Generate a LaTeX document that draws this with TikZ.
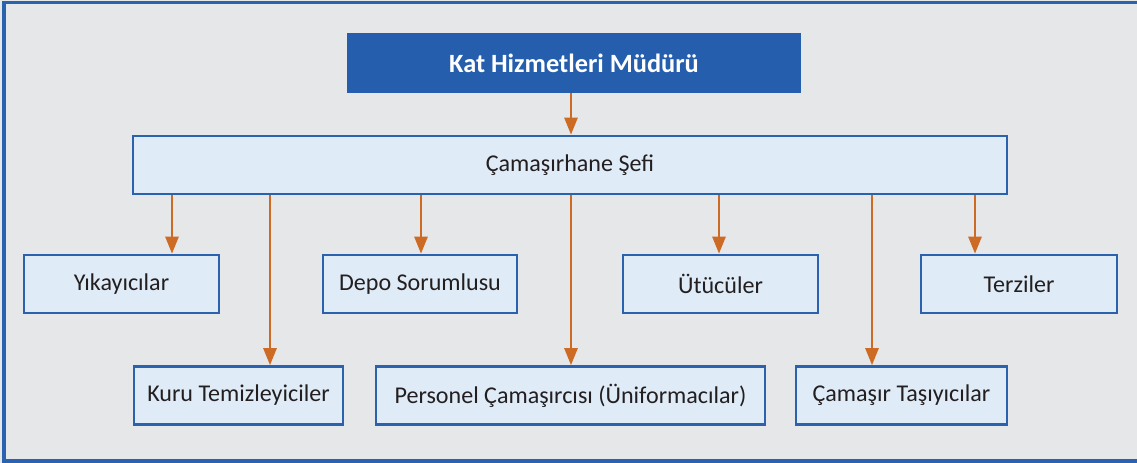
\documentclass[tikz,border=0pt]{standalone}
\usepackage{fontspec}
\setmainfont{Carlito}
\usepackage{tikz}
\usetikzlibrary{arrows.meta}
\usepackage{xcolor}
\definecolor{bgray}{HTML}{E6E7E8}
\definecolor{dblue}{HTML}{255EAD}
\definecolor{lblue}{HTML}{DFEBF7}
\definecolor{eblue}{HTML}{2B62B0}
\definecolor{orng}{HTML}{CD6A24}
\definecolor{txt}{HTML}{231F20}

\begin{document}
\begin{tikzpicture}[x=0.02cm,y=-0.02cm,>={Triangle[length=0.34cm,width=0.26cm]}]
  \tikzstyle{box}=[rectangle,draw=eblue,line width=1.5pt,fill=lblue,inner sep=0pt,
    minimum height=1.16cm,text=txt,font=\fontsize{13.7}{16}\selectfont]
  \tikzstyle{head}=[rectangle,fill=dblue,inner sep=0pt,minimum height=1.2cm,minimum width=9.08cm,
    text=white,font=\fontsize{15}{18}\selectfont\bfseries]
  \tikzstyle{arr}=[->,draw=orng,line width=1.5pt]
  \useasboundingbox (0,0) rectangle (1137,463);
  \fill[bgray] (0,0) rectangle (1137,463);
  \draw[eblue,line width=1.9pt] (4,2.5) rectangle (1145,461);
  \node(mgr) at (574,63) [head]{Kat Hizmetleri Müdürü};
  \node(chef) at (570,165) [box,minimum width=17.48cm]{Çamaşırhane Şefi};
  \node(ykc) at (121.5,284) [box,minimum width=3.9cm]{Yıkayıcılar};
  \node(depo) at (420,284) [box,minimum width=3.88cm]{Depo Sorumlusu};
  \node(utu) at (720.5,284) [box,minimum width=3.9cm]{Ütücüler};
  \node(terz) at (1019,284) [box,minimum width=3.92cm]{Terziler};
  \node(kuru) at (238.5,395.5) [box,minimum width=4.18cm]{Kuru Temizleyiciler};
  \node(pers) at (570.5,395.5) [box,minimum width=7.78cm]{Personel Çamaşırcısı (Üniformacılar)};
  \node(tasi) at (901.5,395.5) [box,minimum width=4.22cm]{Çamaşır Taşıyıcılar};
  \draw[arr](571,0 |- mgr.south)--(571,0 |- chef.north);
  \draw[arr](172,0 |- chef.south)--(172,0 |- ykc.north);
  \draw[arr](270,0 |- chef.south)--(270,0 |- kuru.north);
  \draw[arr](421,0 |- chef.south)--(421,0 |- depo.north);
  \draw[arr](571,0 |- chef.south)--(571,0 |- pers.north);
  \draw[arr](719,0 |- chef.south)--(719,0 |- utu.north);
  \draw[arr](872,0 |- chef.south)--(872,0 |- tasi.north);
  \draw[arr](975,0 |- chef.south)--(975,0 |- terz.north);
\end{tikzpicture}
\end{document}
